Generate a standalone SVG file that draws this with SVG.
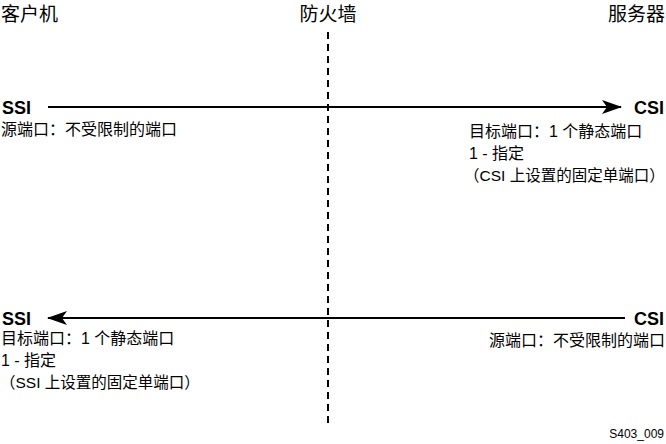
<svg xmlns="http://www.w3.org/2000/svg" width="666" height="444" viewBox="0 0 666 444">
<style>
.t{font-family:"Liberation Sans","Noto Sans CJK SC",sans-serif;fill:#000}
.h{font-size:19px}
.b{font-size:18px;font-weight:bold}
.s{font-size:16px}
.p{font-size:15.5px}
.ln{stroke:#000;stroke-width:2;fill:none}
</style>
<defs>
<marker id="ah" viewBox="0 0 20 14" refX="19" refY="7" markerWidth="20" markerHeight="14" markerUnits="userSpaceOnUse" orient="auto">
<path d="M0,0 L20,7 L0,14 L5,7 Z" fill="#000"/>
</marker>
</defs>
<rect width="666" height="444" fill="#fff"/>
<g id="headers">
<text class="t h" x="1" y="21">客户机</text>
<text class="t h" x="328" y="21" text-anchor="middle">防火墙</text>
<text class="t h" x="665" y="21" text-anchor="end">服务器</text>
</g>
<g id="firewall">
<line x1="328" y1="32" x2="328" y2="426" stroke="#000" stroke-width="2" stroke-dasharray="7,5"/>
</g>
<g id="connectors">
<line class="ln" x1="48" y1="107" x2="621" y2="107" marker-end="url(#ah)"/>
<line class="ln" x1="625" y1="318" x2="48" y2="318" marker-end="url(#ah)"/>
</g>
<g id="ssi-top">
<text class="t b" x="2" y="114">SSI</text>
<text class="t s" x="1" y="135">源端口：不受限制的端口</text>
</g>
<g id="csi-top">
<text class="t b" x="664" y="114" text-anchor="end">CSI</text>
<text class="t s" x="469" y="137">目标端口：1 个静态端口</text>
<text class="t s" x="469" y="159">1 - 指定</text>
<text class="t p" x="464" y="181">（CSI 上设置的固定单端口）</text>
</g>
<g id="ssi-bottom">
<text class="t b" x="2" y="325">SSI</text>
<text class="t s" x="1" y="344">目标端口：1 个静态端口</text>
<text class="t s" x="1" y="366">1 - 指定</text>
<text class="t p" x="0" y="388">（SSI 上设置的固定单端口）</text>
</g>
<g id="csi-bottom">
<text class="t b" x="664" y="325" text-anchor="end">CSI</text>
<text class="t s" x="665" y="346" text-anchor="end">源端口：不受限制的端口</text>
</g>
<text class="t" x="664" y="438" font-size="12" text-anchor="end">S403_009</text>
</svg>
